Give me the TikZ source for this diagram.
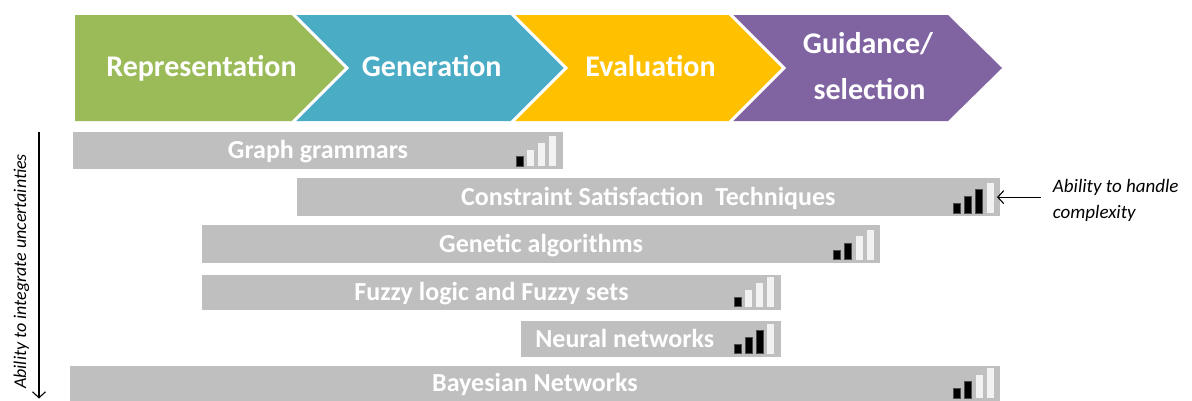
\documentclass[tikz,border=0pt]{standalone}
\usepackage{fontspec}
\setmainfont{Carlito}
\usetikzlibrary{calc,arrows.meta}
\definecolor{cgreen}{HTML}{9BBB59}
\definecolor{cblue}{HTML}{4BACC6}
\definecolor{cyellow}{HTML}{FFC000}
\definecolor{cpurple}{HTML}{8064A2}
\definecolor{cbar}{HTML}{BFBFBF}
\definecolor{sigoff}{HTML}{F2F2F2}
\newcommand\sigbars[2]{%
  \foreach \k/\h in {0/9.5,1/16.5,2/23.5,3/30}{%
    \pgfmathsetmacro\rx{-6.5-(3-\k)*11}%
    \ifnum\k<#2\relax
      \path[sigonbar] ($(#1.south east)+(\rx,-3)$) rectangle ++(-7,-\h);
    \else
      \path[sigoffbar] ($(#1.south east)+(\rx,-3)$) rectangle ++(-7,-\h);
    \fi}}
\begin{document}
\begin{tikzpicture}[x=1pt,y=-1pt,
  sep/.style={draw=white,line width=3pt,line join=miter},
  chevtext/.style={text=white,font=\fontsize{30}{36}\selectfont\bfseries,anchor=base,inner sep=0pt},
  bar/.style={fill=cbar,inner sep=0pt,outer sep=0pt,text=white,
    font=\fontsize{26}{30}\selectfont\bfseries,text height=16.5pt,text depth=0pt},
  bartext/.style={inner sep=0pt,text=white,font=\fontsize{26}{30}\selectfont\bfseries,text height=16.5pt,text depth=0pt},
  sigonbar/.style={fill=black,draw=black!70,line width=0.6pt},
  sigoffbar/.style={fill=sigoff},
  note/.style={font=\fontsize{19}{24}\selectfont\itshape,inner sep=0pt,anchor=base west},
  arr/.style={line width=1.1pt,-{Straight Barb[length=6pt,width=13pt]}}]
\useasboundingbox (0,0) rectangle (1192,400);
% chevrons
\fill[cgreen] (75,15) -- (293,15) -- (347,68) -- (293,121) -- (75,121) -- cycle;
\fill[cblue] (293,15) -- (512,15) -- (566,68) -- (512,121) -- (293,121) -- (347,68) -- cycle;
\fill[cyellow] (512,15) -- (730,15) -- (784,68) -- (730,121) -- (512,121) -- (566,68) -- cycle;
\fill[cpurple] (730,15) -- (948,15) -- (1002,68) -- (948,121) -- (730,121) -- (784,68) -- cycle;
\draw[sep] (293,14) -- (347,68) -- (293,122);
\draw[sep] (512,14) -- (566,68) -- (512,122);
\draw[sep] (730,14) -- (784,68) -- (730,122);
\node[chevtext] (rep) at (201.5,76.7) {Representation};
\node[chevtext] (gen) at (431.7,76.7) {Generation};
\node[chevtext] (eva) at (650.5,76.7) {Evaluation};
\node[chevtext] (gui1) at (868,53.3) {Guidance/};
\node[chevtext] (gui2) at (869.5,99) {selection};
% bars
\node[bar,minimum width=489.4pt,minimum height=37.3pt] (gg) at (318,150.35) {Graph grammars};
\node[bar,minimum width=703.3pt,minimum height=37.7pt] (cst) at (648.35,197.15) {Constraint Satisfaction\ \ Techniques};
\node[bar,minimum width=677.7pt,minimum height=37.5pt] (ga) at (541.15,243.75) {Genetic algorithms};
\node[bar,minimum width=578.4pt,minimum height=34.5pt] (fz) at (491.5,292.25) {Fuzzy logic and Fuzzy sets};
\node[bar,minimum width=260pt,minimum height=35.5pt] (nn) at (650.7,338.75) {};
\node[bartext] (nnt) at ($(nn.center)+(-26,0)$) {Neural networks};
\node[bar,minimum width=930pt,minimum height=35.5pt] (bn) at (535,383.25) {Bayesian Networks};
% signal icons
\sigbars{gg}{1}
\sigbars{cst}{3}
\sigbars{ga}{2}
\sigbars{fz}{1}
\sigbars{nn}{3}
\sigbars{bn}{2}
% annotations
\coordinate (ca) at ($(cst.east)+(41,0)$);
\draw[arr] (ca) -- ($(cst.east)+(-3,0)$);
\node[note] (cx1) at (1052.7,192.3) {Ability to handle};
\node[note] (cx2) at (1052.7,218.3) {complexity};
\coordinate (ua) at (39,131.5);
\coordinate (ub) at (39,398.5);
\draw[arr] (ua) -- (ub);
\node[rotate=90,font=\fontsize{18}{20}\selectfont\itshape,inner sep=0pt] (ui) at (21.5,271.5) {Ability to integrate uncertainties};
\end{tikzpicture}
\end{document}
